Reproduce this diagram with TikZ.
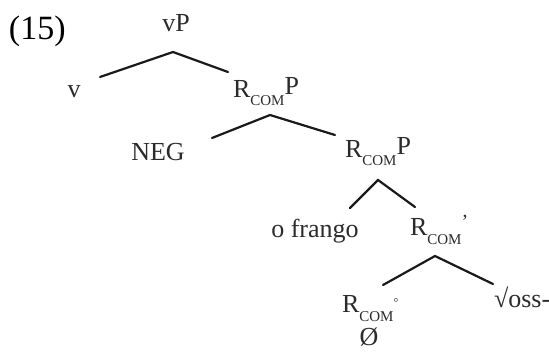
\documentclass[tikz,border=0pt]{standalone}
\usepackage{fontspec}
\setmainfont{Liberation Serif}
\definecolor{ink}{HTML}{2B2B2B}
\definecolor{branchink}{HTML}{1A1A1A}
% R with the small-caps style subscript COM
\newcommand{\rcomlabel}{R\raisebox{-9pt}{\fontsize{15}{15}\selectfont COM}}
\begin{document}
\begin{tikzpicture}[x=1pt,y=-1pt,
  lbl/.style={inner sep=0pt,outer sep=0pt,text=ink,font=\fontsize{26}{30}\selectfont},
  branch/.style={draw=branchink,line width=2.2pt,line cap=round}]
\useasboundingbox (0,0) rectangle (549,353);
\fill[white] (0,0) rectangle (549,353);

% example number
\node[lbl,anchor=base west,text=black,font=\fontsize{34}{36}\selectfont] (exnum) at (9,40) {(15)};

% labels
\node[lbl,anchor=base] (vP) at (176,32) {vP};
\node[lbl,anchor=base] (v) at (74,97) {v};
\node[lbl,anchor=base west] (rcomPa) at (233,97) {\rcomlabel\raisebox{3pt}{P}};
\node[lbl,anchor=base] (neg) at (158,160) {NEG};
\node[lbl,anchor=base west] (rcomPb) at (345,157) {\rcomlabel\raisebox{3pt}{P}};
\node[lbl,anchor=base] (frango) at (315,237) {o frango};
\node[lbl,anchor=base west] (rcombar) at (410,235) {\rcomlabel\raisebox{7pt}{\fontsize{20}{20}\selectfont ’}};
\node[lbl,anchor=base west] (rcomhead) at (342,312) {\rcomlabel\raisebox{6pt}{\fontsize{12}{12}\selectfont °}};
\node[lbl,anchor=base] (null) at (369,345) {Ø};
\node[lbl,anchor=base west] (root) at (494,307) {√oss-};

% branching points and branch ends
\coordinate (vPap) at (173,52);
\coordinate (vPl) at (100,77);
\coordinate (vPr) at (228,72);
\coordinate (rPaap) at (270,115);
\coordinate (rPal) at (212,138);
\coordinate (rPar) at (335,135);
\coordinate (rPbap) at (378,180);
\coordinate (rPbl) at (350,208);
\coordinate (rPbr) at (415,207);
\coordinate (rbarap) at (435,256);
\coordinate (rbarl) at (383,285);
\coordinate (rbarr) at (493,284);

% branches
\draw[branch] (vPl) -- (vPap) -- (vPr);
\draw[branch] (rPal) -- (rPaap) -- (rPar);
\draw[branch] (rPbl) -- (rPbap) -- (rPbr);
\draw[branch] (rbarl) -- (rbarap) -- (rbarr);
\end{tikzpicture}
\end{document}
